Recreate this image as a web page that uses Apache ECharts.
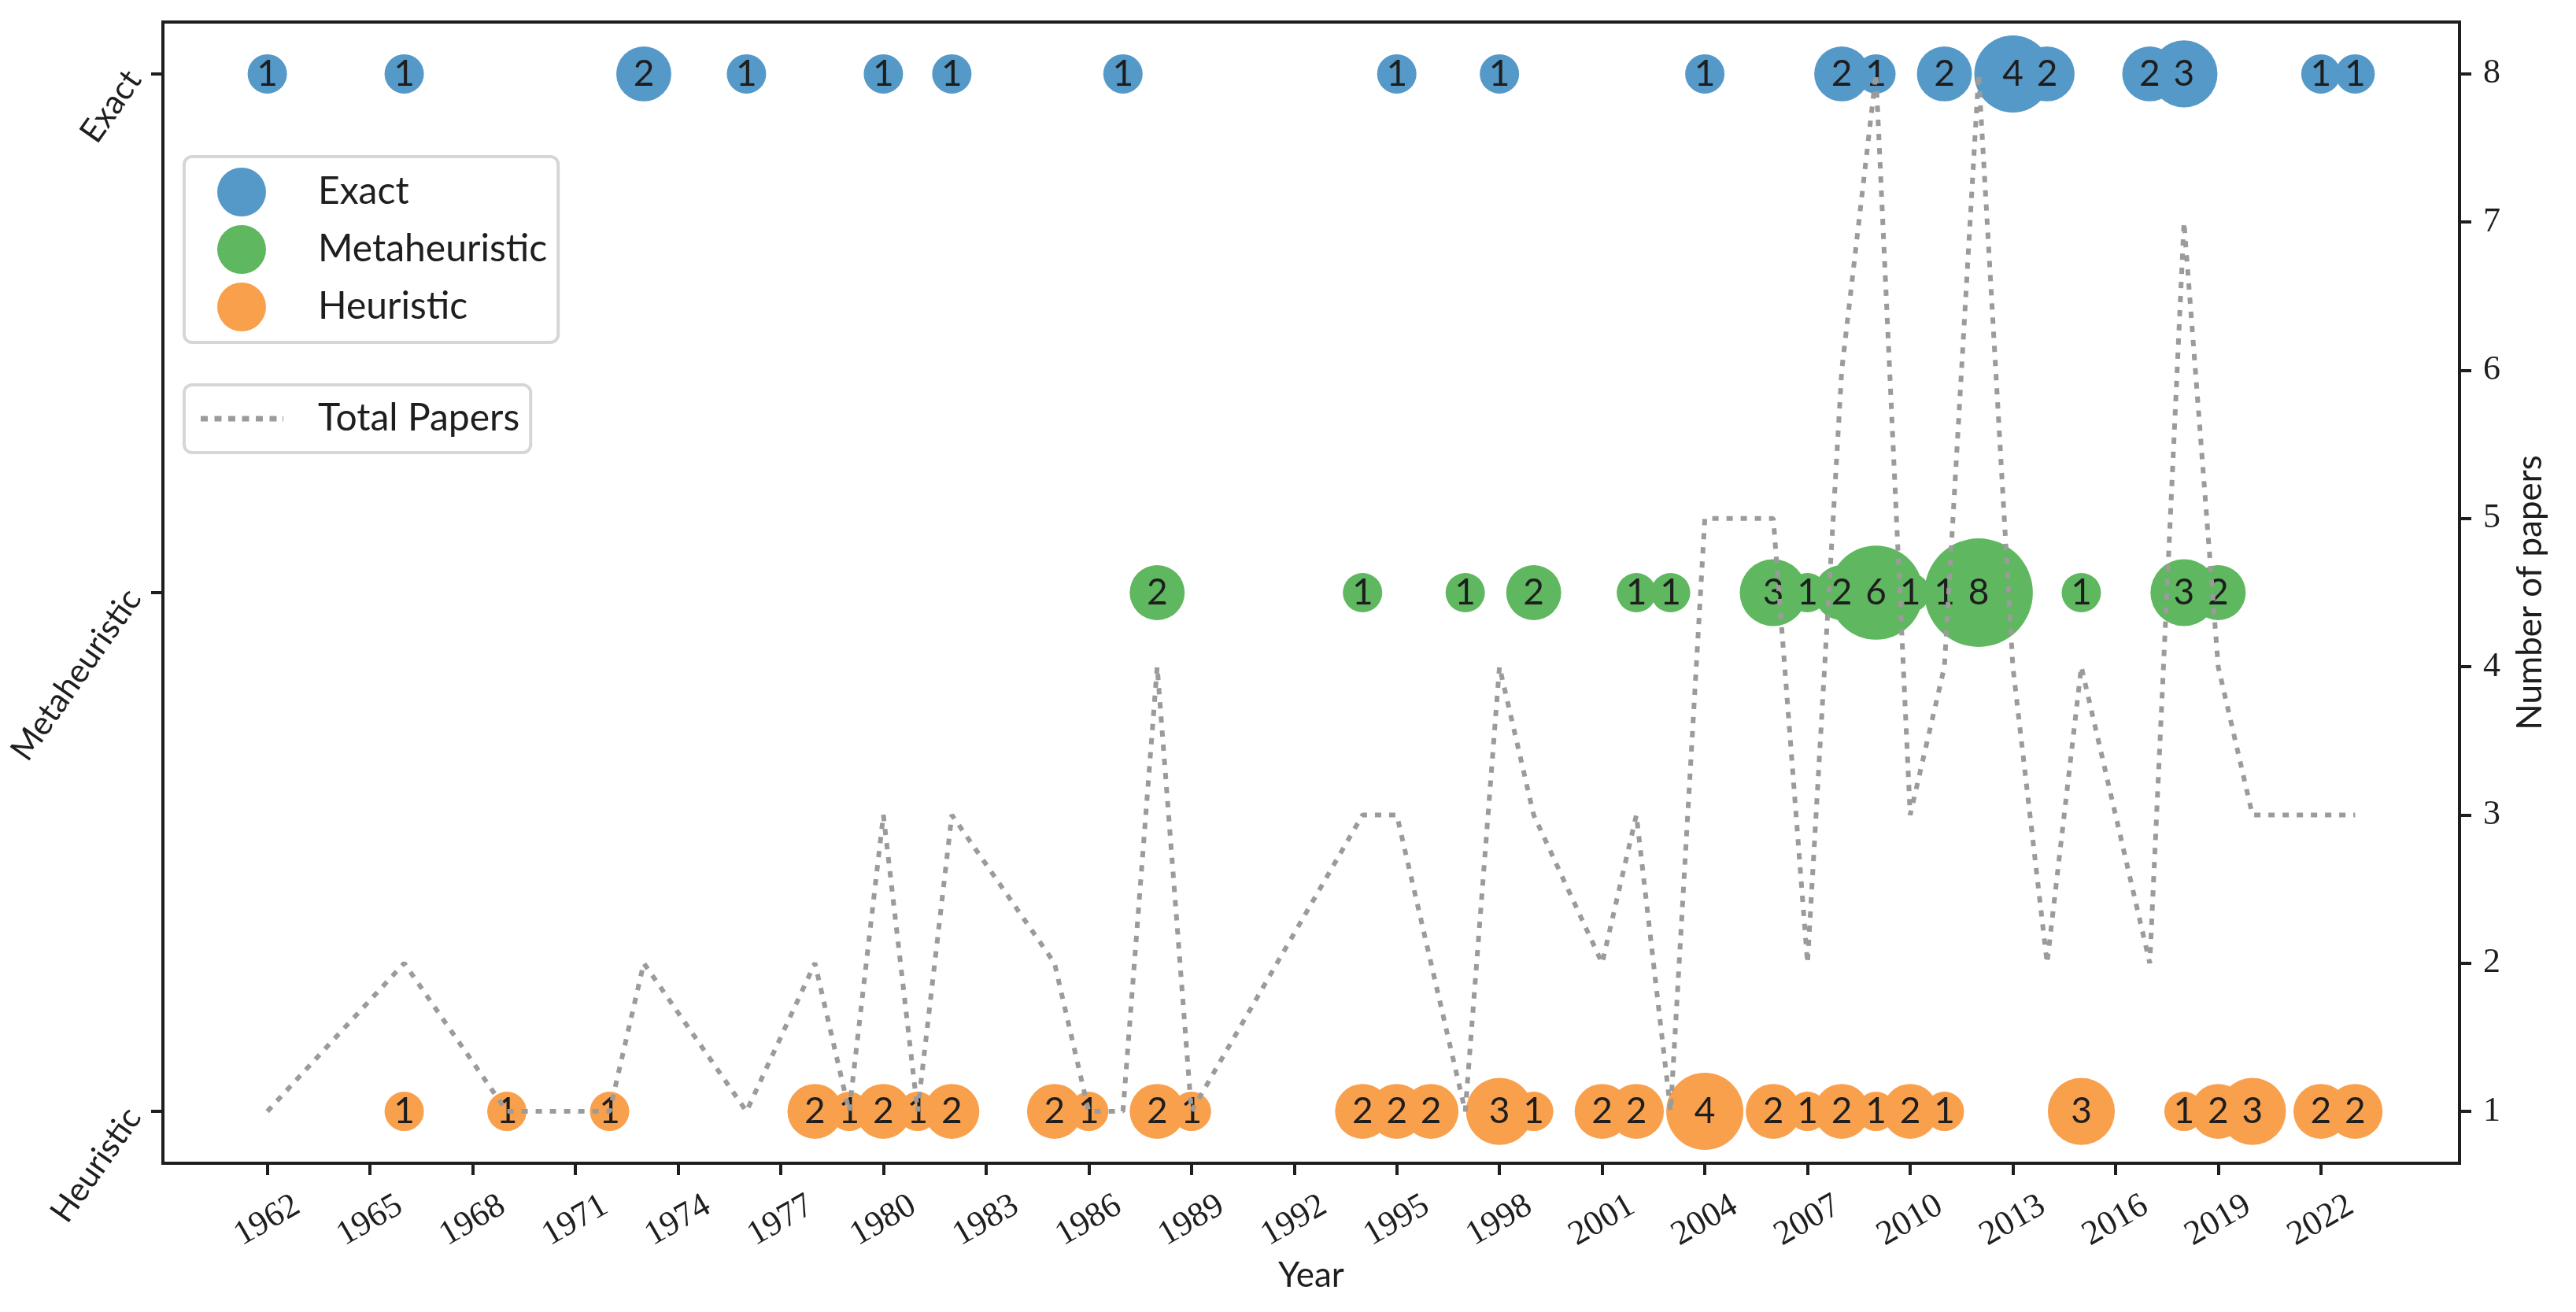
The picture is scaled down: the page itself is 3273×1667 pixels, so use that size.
<!DOCTYPE html>
<html>
<head>
<meta charset="utf-8">
<script src="https://cdn.jsdelivr.net/npm/echarts@6/dist/echarts.min.js"></script>
<style>
html,body{margin:0;padding:0;background:#fff;}
#chart{width:3273px;height:1667px;}
</style>
</head>
<body>
<div id="chart"></div>
<script>
// ---- data ----
const categories = ['Heuristic', 'Metaheuristic', 'Exact'];
const exactData = [[1962,1],[1966,1],[1973,2],[1976,1],[1980,1],[1982,1],[1987,1],[1995,1],[1998,1],[2004,1],[2008,2],[2009,1],[2011,2],[2013,4],[2014,2],[2017,2],[2018,3],[2022,1],[2023,1]];
const metaData = [[1988,2],[1994,1],[1997,1],[1999,2],[2002,1],[2003,1],[2006,3],[2007,1],[2008,2],[2009,6],[2010,1],[2011,1],[2012,8],[2015,1],[2018,3],[2019,2]];
const heurData = [[1966,1],[1969,1],[1972,1],[1978,2],[1979,1],[1980,2],[1981,1],[1982,2],[1985,2],[1986,1],[1988,2],[1989,1],[1994,2],[1995,2],[1996,2],[1998,3],[1999,1],[2001,2],[2002,2],[2004,4],[2006,2],[2007,1],[2008,2],[2009,1],[2010,2],[2011,1],[2015,3],[2018,1],[2019,2],[2020,3],[2022,2],[2023,2]];
const totalYears = [1962,1966,1969,1972,1973,1976,1978,1979,1980,1981,1982,1985,1986,1987,1988,1989,1994,1995,1996,1997,1998,1999,2001,2002,2003,2004,2006,2007,2008,2009,2010,2011,2012,2013,2014,2015,2017,2018,2019,2020,2022,2023];
const totalPapers = [1,2,1,1,2,1,2,1,3,1,3,2,1,1,4,1,3,3,2,1,4,3,2,3,1,5,5,2,6,8,3,4,8,4,2,4,2,7,4,3,3,3];
const xTicks = [1962,1965,1968,1971,1974,1977,1980,1983,1986,1989,1992,1995,1998,2001,2004,2007,2010,2013,2016,2019,2022];
const rightTicks = [1,2,3,4,5,6,7,8];

const COLORS = {Exact:'#5599c8', Metaheuristic:'#5fb760', Heuristic:'#f9a04d'};
const INK = '#1e1e1e';
const LINE_GRAY = '#9b9b9b';
const SANS = 'Lato';
const SERIF = 'Liberation Serif';
const DOTTED_ICON = 'path://M0,0h9v7h-9z M17.5,0h9v7h-9z M35,0h9v7h-9z M52.5,0h9v7h-9z M70,0h9v7h-9z M87.5,0h9v7h-9z M104,0h1v7h-1z';

function bubble(name, arr, row){
  return {
    name: name, type: 'scatter', xAxisIndex: 0, yAxisIndex: 0, z: 2,
    data: arr.map(d => [d[0], row, d[1]]),
    symbolSize: v => 48 * Math.sqrt(v[2]) + 2,
    itemStyle: {color: COLORS[name], opacity: 1},
    label: {show: true, position: 'inside', formatter: p => String(p.value[2]),
            color: INK, fontFamily: SANS, fontSize: 46},
    emphasis: {disabled: true}
  };
}

const chart = echarts.init(document.getElementById('chart'), null, {renderer: 'canvas'});
chart.setOption({
  animation: false,
  backgroundColor: '#fff',
  grid: {left: 207, top: 28, right: 148, bottom: 189, show: true, borderColor: INK, borderWidth: 4, backgroundColor: 'transparent'},
  legend: [
    {
      data: ['Exact', 'Metaheuristic', 'Heuristic'],
      orient: 'vertical', left: 234, top: 199,
      itemWidth: 62, itemHeight: 62, itemGap: 11, icon: 'circle',
      padding: [14, 14, 14, 42],
      borderColor: '#d6d6d6', borderWidth: 4, borderRadius: 10, backgroundColor: '#fff',
      textStyle: {fontFamily: SANS, fontSize: 48, color: INK, padding: [0, 0, 0, 61]},
      selectedMode: false
    },
    {
      data: [{name: 'Total Papers', icon: DOTTED_ICON, itemStyle: {color: LINE_GRAY}}],
      orient: 'vertical', left: 234, top: 489,
      itemWidth: 105, itemHeight: 7,
      padding: [14, 14, 14, 21],
      borderColor: '#d6d6d6', borderWidth: 4, borderRadius: 10, backgroundColor: '#fff',
      textStyle: {fontFamily: SANS, fontSize: 48, color: INK, padding: [0, 0, 0, 39], lineHeight: 58},
      selectedMode: false
    }
  ],
  xAxis: {
    type: 'value', min: 1958.95, max: 2026.05,
    name: 'Year', nameLocation: 'middle', nameGap: 112,
    nameTextStyle: {fontFamily: SANS, fontSize: 44, color: INK},
    axisLine: {show: true, onZero: false, lineStyle: {color: INK, width: 4}},
    axisTick: {show: true, length: 15, lineStyle: {color: INK, width: 4}, customValues: xTicks},
    axisLabel: {show: true, customValues: xTicks, rotate: 30, align: 'center', verticalAlign: 'middle', margin: 73,
                fontFamily: SERIF, fontSize: 44, color: INK, formatter: v => String(v)},
    splitLine: {show: false}
  },
  yAxis: [
    {
      type: 'value', min: -0.1, max: 2.1, position: 'left',
      axisLine: {show: true, onZero: false, lineStyle: {color: INK, width: 4}},
      axisTick: {show: true, length: 15, lineStyle: {color: INK, width: 4}, customValues: [0, 1, 2]},
      axisLabel: {show: true, customValues: [0, 1, 2], rotate: 55, margin: 37,
                  fontFamily: SANS, fontSize: 42, color: INK,
                  formatter: v => categories[Math.round(v)]},
      splitLine: {show: false}
    },
    {
      type: 'value', min: 0.65, max: 8.35, position: 'right',
      name: 'Number of papers', nameLocation: 'middle', nameRotate: 90, nameGap: 68,
      nameTextStyle: {fontFamily: SANS, fontSize: 44, color: INK},
      axisLine: {show: true, onZero: false, lineStyle: {color: INK, width: 4}},
      axisTick: {show: true, length: 15, lineStyle: {color: INK, width: 4}, customValues: rightTicks},
      axisLabel: {show: true, customValues: rightTicks, margin: 30,
                  fontFamily: SERIF, fontSize: 44, color: INK, formatter: v => String(v)},
      splitLine: {show: false}
    }
  ],
  series: [
    bubble('Exact', exactData, 2),
    bubble('Metaheuristic', metaData, 1),
    bubble('Heuristic', heurData, 0),
    {
      name: 'Total Papers', type: 'line', xAxisIndex: 0, yAxisIndex: 1, z: 6,
      data: totalYears.map((y, i) => [y, totalPapers[i]]),
      symbol: 'none', showSymbol: false,
      lineStyle: {color: LINE_GRAY, width: 6, type: [8, 10]},
      itemStyle: {color: LINE_GRAY},
      emphasis: {disabled: true}
    }
  ]
});
</script>
</body>
</html>
